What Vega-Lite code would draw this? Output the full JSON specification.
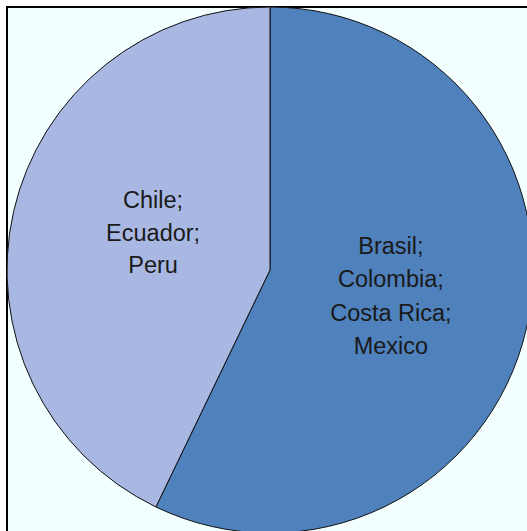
{
  "$schema": "https://vega.github.io/schema/vega-lite/v6.json",
  "width": 526,
  "height": 526,
  "autosize": {"type": "none"},
  "padding": {"left": 7, "top": 7, "right": 0, "bottom": 0},
  "background": "white",
  "data": {
    "values": [
      {"group": "Brasil;\nColombia;\nCosta Rica;\nMexico", "count": 4, "idx": 1},
      {"group": "Chile;\nEcuador;\nPeru", "count": 3, "idx": 2}
    ]
  },
  "layer": [
    {
      "mark": {"type": "rect", "fill": "#F3FEFE", "stroke": "black", "strokeWidth": 2},
      "encoding": {}
    },
    {
      "mark": {"type": "arc", "stroke": "#111111", "strokeWidth": 1},
      "encoding": {
        "theta": {"field": "count", "type": "quantitative", "stack": true},
        "order": {"field": "idx", "type": "quantitative"},
        "color": {
          "field": "idx",
          "type": "nominal",
          "scale": {"domain": [1, 2], "range": ["#4F81BD", "#A9B8E2"]},
          "legend": null
        }
      }
    },
    {
      "mark": {
        "type": "text",
        "radius": 124,
        "dy": -51,
        "fontSize": 23.5,
        "font": "Liberation Sans",
        "color": "#1a1a1a",
        "lineBreak": "\n",
        "lineHeight": 33.5,
        "align": "center",
        "baseline": "middle"
      },
      "encoding": {
        "theta": {"field": "count", "type": "quantitative", "stack": true},
        "order": {"field": "idx", "type": "quantitative"},
        "text": {"condition": {"test": "datum.idx == 1", "field": "group", "type": "nominal"}, "value": ""}
      }
    },
    {
      "mark": {
        "type": "text",
        "radius": 124,
        "dy": -41,
        "dx": 4,
        "fontSize": 23.5,
        "font": "Liberation Sans",
        "color": "#1a1a1a",
        "lineBreak": "\n",
        "lineHeight": 32.5,
        "align": "center",
        "baseline": "middle"
      },
      "encoding": {
        "theta": {"field": "count", "type": "quantitative", "stack": true},
        "order": {"field": "idx", "type": "quantitative"},
        "text": {"condition": {"test": "datum.idx == 2", "field": "group", "type": "nominal"}, "value": ""}
      }
    }
  ]
}
